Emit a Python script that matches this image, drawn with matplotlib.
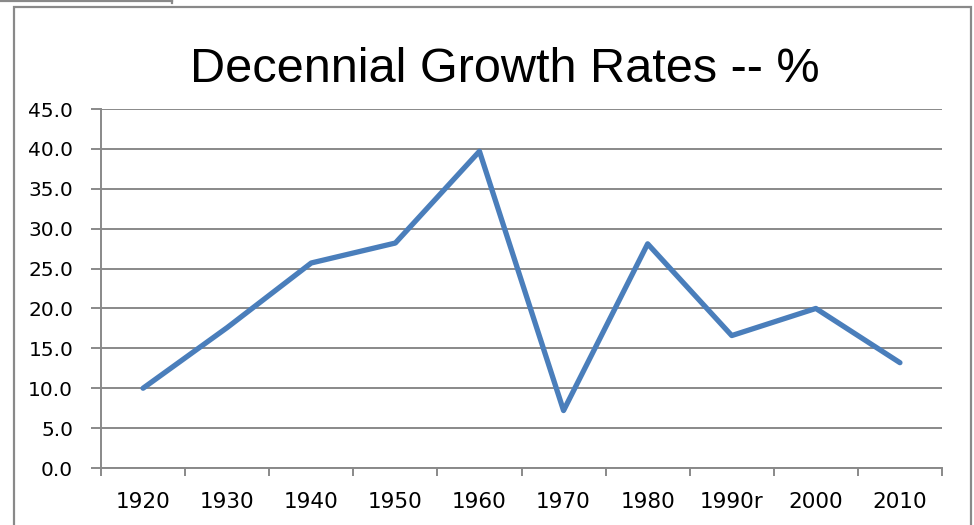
import matplotlib
matplotlib.use("Agg")
import matplotlib.pyplot as plt
from matplotlib.lines import Line2D
from matplotlib.patches import Rectangle

categories = ["1920", "1930", "1940", "1950", "1960", "1970", "1980", "1990r", "2000", "2010"]
growth = [10.0, 17.6, 25.7, 28.2, 39.7, 7.2, 28.1, 16.6, 20.0, 13.2]
yticks = [0, 5, 10, 15, 20, 25, 30, 35, 40, 45]
title = "Decennial Growth Rates -- %"

W, H = 974, 525
fig = plt.figure(figsize=(W / 100, H / 100), dpi=100)
fig.patch.set_facecolor("white")

gray = "#898989"

# chart frame
fig.add_artist(Rectangle((14 / W, -0.1), 957 / W, 1.1 - 7 / H, transform=fig.transFigure,
                         fill=False, edgecolor=gray, linewidth=1.6))
# small partial box at top-left
fig.add_artist(Line2D([0, 172 / W], [1 - 1 / H, 1 - 1 / H], transform=fig.transFigure,
                      color=gray, linewidth=1.6))
fig.add_artist(Line2D([172 / W, 172 / W], [1 - 3 / H, 1.0], transform=fig.transFigure,
                      color=gray, linewidth=1.6))

ax = fig.add_axes([101 / W, 1 - 468 / H, 841 / W, 359 / H])
x = list(range(len(categories)))
ax.plot(x, growth, color="#4a7ebb", linewidth=3.8, solid_capstyle="round",
        solid_joinstyle="round", zorder=3)

ax.set_xlim(-0.5, len(categories) - 0.5)
ax.set_ylim(0, 45)
ax.set_yticks(yticks)
ax.set_yticklabels([f"{v:.1f}" for v in yticks], fontsize=14.5, family="DejaVu Sans")
ax.yaxis.grid(True, color=gray, linewidth=1.4)
ax.set_axisbelow(True)

ax.set_xticks(x)
ax.set_xticklabels(categories, fontsize=15.5, family="DejaVu Sans")
ax.tick_params(axis="x", length=0, pad=17)
ax.set_xticks([i - 0.5 for i in range(len(categories) + 1)], minor=True)
ax.tick_params(axis="x", which="minor", length=6, width=1.4, color=gray, direction="out")
ax.tick_params(axis="y", length=7, width=1.4, color=gray, pad=13)

for side in ["top", "right"]:
    ax.spines[side].set_visible(False)
for side in ["left", "bottom"]:
    ax.spines[side].set_color(gray)
    ax.spines[side].set_linewidth(1.4)

fig.text(505 / W, 1 - 82 / H, title, ha="center", va="baseline", fontsize=35,
         family="Liberation Sans", color="black")

fig.savefig("out.png", dpi=100)
